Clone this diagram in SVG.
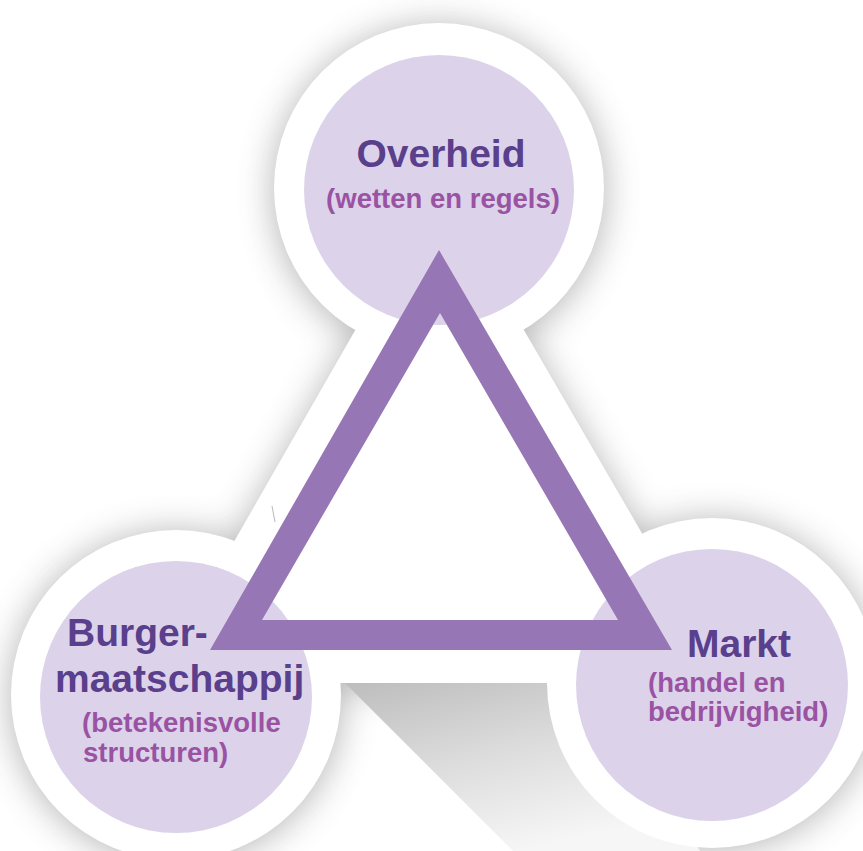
<svg xmlns="http://www.w3.org/2000/svg" width="863" height="851" viewBox="0 0 863 851">
  <defs>
    <filter id="soft" x="-30%" y="-30%" width="160%" height="160%">
      <feGaussianBlur stdDeviation="18"/>
    </filter>
    <linearGradient id="fold" x1="0" y1="0" x2="0.5" y2="1">
      <stop offset="0" stop-color="#bdbdbd"/>
      <stop offset="0.5" stop-color="#dcdcdc"/>
      <stop offset="1" stop-color="#f6f6f6"/>
    </linearGradient>
    <style>
      .ring { fill: #ffffff; }
      .disc { fill: #dcd3ea; }
      .title { font-family: "Liberation Sans", Arial, sans-serif; font-weight: bold; font-size: 39px; fill: #5a3f8c; }
      .sub { font-family: "Liberation Sans", Arial, sans-serif; font-weight: bold; font-size: 27.5px; fill: #9a52a3; }
      .tri { fill: #9676b4; fill-rule: evenodd; }
    </style>
  </defs>

  <!-- background -->
  <rect x="0" y="0" width="863" height="851" fill="#ffffff"/>

  <!-- soft shadow of the white backdrop -->
  <g filter="url(#soft)" opacity="0.42" fill="#4a4a4a">
    <circle cx="439" cy="191" r="165"/>
    <circle cx="176" cy="697" r="165"/>
    <circle cx="712" cy="685" r="165"/>
    <polygon points="439,190 153,686 729,686"/>
  </g>

  <!-- fold shadow below the triangle -->
  <polygon points="345,683 600,683 700,851 513,851" fill="url(#fold)"/>

  <!-- white backdrop triangle -->
  <polygon points="439,184 153,683 729,683" fill="#ffffff"/>

  <g id="node-overheid">
    <circle class="ring" cx="439" cy="188" r="165"/>
    <circle class="disc" cx="439" cy="190" r="135"/>
    <text class="title" x="441" y="167" text-anchor="middle">Overheid</text>
    <text class="sub" x="443" y="208" text-anchor="middle">(wetten en regels)</text>
  </g>

  <g id="node-burgermaatschappij">
    <circle class="ring" cx="176" cy="695" r="165"/>
    <circle class="disc" cx="176" cy="697" r="136"/>
    <text class="title" x="67" y="646">Burger-</text>
    <text class="title" x="55" y="692">maatschappij</text>
    <text class="sub" x="82" y="732">(betekenisvolle</text>
    <text class="sub" x="83" y="762">structuren)</text>
  </g>

  <g id="node-markt">
    <circle class="ring" cx="712" cy="683" r="165"/>
    <circle class="disc" cx="712" cy="685" r="136"/>
    <text class="title" x="687" y="657">Markt</text>
    <text class="sub" x="648" y="692">(handel en</text>
    <text class="sub" x="648" y="721">bedrijvigheid)</text>
  </g>

  <g id="connectors">
    <path class="tri" d="M439,250 L210,650 L672,650 Z M440,313 L262,620 L618,620 Z"/>
  </g>

  <line x1="272" y1="506" x2="275" y2="522" stroke="#b8b8c0" stroke-width="1"/>
</svg>
